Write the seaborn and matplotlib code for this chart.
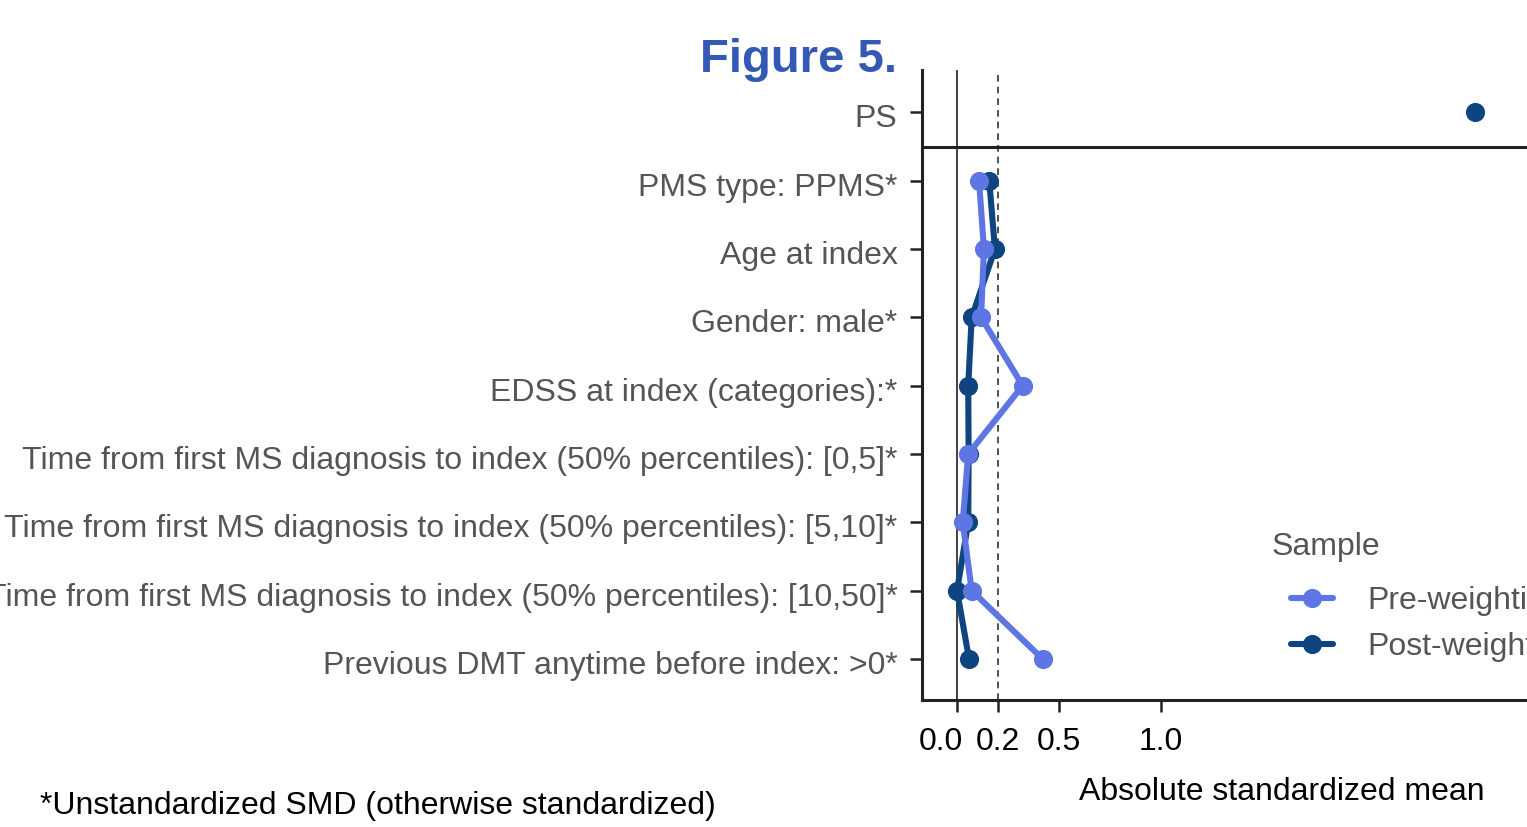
import pandas as pd
import numpy as np
import matplotlib
matplotlib.use("Agg")
import matplotlib.pyplot as plt
import matplotlib.transforms as mtransforms
from matplotlib.lines import Line2D
import seaborn as sns

# Covariates, listed top to bottom as in the plot
covariates = [
    "PMS type: PPMS*",
    "Age at index",
    "Gender: male*",
    "EDSS at index (categories):*",
    "Time from first MS diagnosis to index (50% percentiles): [0,5]*",
    "Time from first MS diagnosis to index (50% percentiles): [5,10]*",
    "Time from first MS diagnosis to index (50% percentiles): [10,50]*",
    "Previous DMT anytime before index: >0*",
]
pre_weighting = [0.108, 0.132, 0.118, 0.322, 0.055, 0.028, 0.072, 0.420]
post_weighting = [0.158, 0.186, 0.072, 0.055, 0.057, 0.055, 0.000, 0.059]

ps_label = "PS"
ps_post = 2.54

x_ticks = [0.0, 0.2, 0.5, 1.0]
x_tick_labels = ["0.0", "0.2", "0.5", "1.0"]
samples = ["Pre-weighting", "Post-weighting"]

PRE_COLOR = "#5E76E4"
POST_COLOR = "#0E4580"
GREY_TXT = "#555555"
DARK = "#222222"


def love_plot():
    # long table, y position counts up from the bottom covariate
    n = len(covariates)
    rows = []
    for i, cov in enumerate(covariates):
        pos = n - 1 - i
        rows.append({"covariate": cov, "pos": pos, "smd": pre_weighting[i], "Sample": samples[0]})
        rows.append({"covariate": cov, "pos": pos, "smd": post_weighting[i], "Sample": samples[1]})
    df = pd.DataFrame(rows)
    ps_df = pd.DataFrame({"covariate": [ps_label], "pos": [n], "smd": [ps_post], "Sample": [samples[1]]})

    sns.set_theme(style="ticks")
    plt.rcParams["font.family"] = ["Liberation Sans", "DejaVu Sans"]

    fig = plt.figure(figsize=(15.27, 8.27), dpi=100)
    # axes runs past the right edge of the figure, as in the original crop
    ax = fig.add_axes([922 / 1527, 1 - 700 / 827, 720 / 1527, 630 / 827])

    ax.axvline(0, color="#333333", lw=1.3, zorder=1)
    ax.axvline(0.2, color="#333333", lw=1.2, dashes=(4, 3), zorder=1)
    ax.axhline(n - 0.5, color=DARK, lw=2.2, zorder=1)

    line_kw = dict(x="smd", y="pos", orient="y", sort=False, estimator=None,
                   marker="o", markersize=13.8, markeredgewidth=0, linewidth=4.4, ax=ax)
    sns.lineplot(data=df[df["Sample"] == samples[1]], color=POST_COLOR, zorder=3, **line_kw)
    sns.lineplot(data=df[df["Sample"] == samples[0]], color=PRE_COLOR, zorder=4, **line_kw)
    sns.scatterplot(data=ps_df, x="smd", y="pos", color=POST_COLOR, s=190, linewidth=0, ax=ax, zorder=4)

    ax.set_xlim(-0.1716, 3.358)
    ax.set_ylim(-0.6, n + 0.62)
    ax.set_yticks(list(range(n + 1)))
    ax.set_yticklabels(covariates[::-1] + [ps_label])
    ax.set_xticks(x_ticks)
    ax.set_xticklabels(x_tick_labels)
    ax.set_ylabel("")
    ax.set_xlabel("Absolute standardized mean", fontsize=23, color="black", labelpad=14)

    sns.despine(ax=ax)
    for side in ["left", "bottom"]:
        ax.spines[side].set_linewidth(2.2)
        ax.spines[side].set_color(DARK)
    ax.tick_params(axis="y", labelsize=23, labelcolor=GREY_TXT, length=8.6, width=1.8, pad=9, color=DARK)
    ax.tick_params(axis="x", labelsize=23, labelcolor="black", length=8.6, width=1.8, pad=11, color=DARK)

    # labels sit slightly below their ticks in the original
    down = mtransforms.ScaledTranslation(0, -0.035, fig.dpi_scale_trans)
    for tk in ax.yaxis.get_major_ticks():
        tk.label1.set_transform(tk.label1.get_transform() + down)
    # the "0.0" label sits a little left of its tick in the original
    lab0 = ax.xaxis.get_major_ticks()[0].label1
    lab0.set_transform(lab0.get_transform() + mtransforms.ScaledTranslation(-0.16, 0, fig.dpi_scale_trans))

    if ax.get_legend() is not None:
        ax.get_legend().remove()
    handles = [
        Line2D([0], [0], color=PRE_COLOR, marker="o", lw=4.4, markersize=13.8, markeredgewidth=0),
        Line2D([0], [0], color=POST_COLOR, marker="o", lw=4.4, markersize=13.8, markeredgewidth=0),
    ]
    ax.legend(handles, samples, loc="upper left", bbox_to_anchor=(1291 / 1527, 1 - 586 / 827),
              bbox_transform=fig.transFigure, frameon=False, fontsize=23, labelcolor=GREY_TXT,
              handlelength=1.3, handletextpad=1.1, labelspacing=0.5, borderpad=0, borderaxespad=0)
    fig.text(1272 / 1527, 1 - 547 / 827, "Sample", fontsize=23, color=GREY_TXT, ha="left", va="center")

    fig.text(897 / 1527, 1 - 60 / 827, "Figure 5.", fontsize=34, fontweight="bold",
             color="#3359B5", ha="right", va="center")
    fig.text(40 / 1527, 1 - 806 / 827, "*Unstandardized SMD (otherwise standardized)",
             fontsize=23, color="black", ha="left", va="center")

    fig.savefig("out.png", dpi=100)
    plt.close(fig)


if __name__ == "__main__":
    love_plot()
